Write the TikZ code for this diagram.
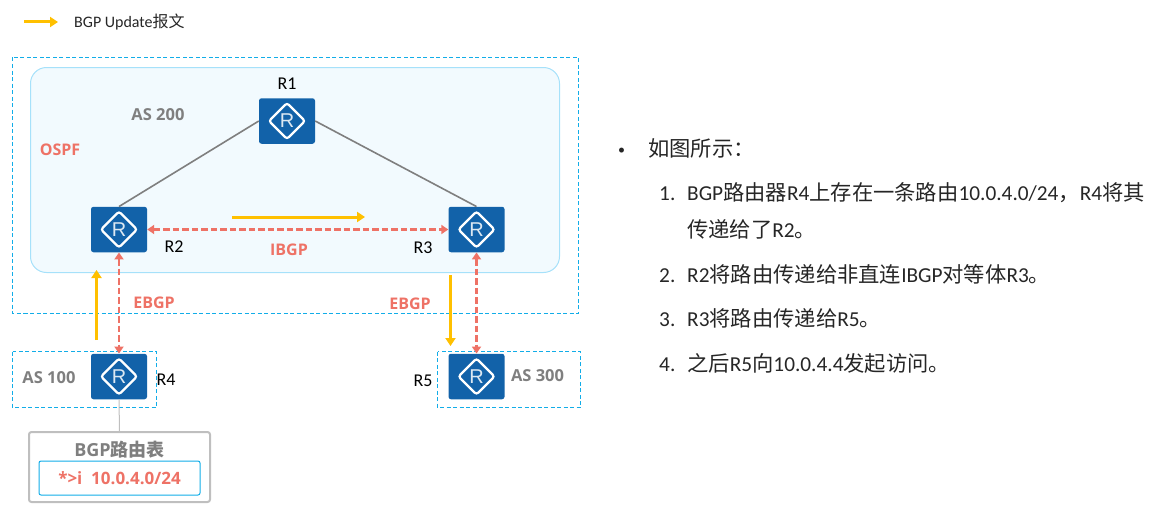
\documentclass[tikz,border=0pt]{standalone}
\usepackage{fontspec}
\usetikzlibrary{arrows.meta}
\setmainfont{Carlito}
\newfontfamily\cjk{Noto Sans CJK SC}
\newfontfamily\lab{Open Sans}
\newfontfamily\icon{Liberation Sans}
\newcommand{\zh}[1]{{\cjk #1}}
\definecolor{routerblue}{HTML}{1262A9}
\definecolor{redline}{HTML}{EE7266}
\definecolor{updateline}{HTML}{FFC000}
\definecolor{boxline}{HTML}{12ADE8}
\definecolor{areafill}{HTML}{F2FAFE}
\definecolor{arealine}{HTML}{A6E1FA}
\definecolor{graytext}{HTML}{7F7F7F}
\definecolor{tableline}{HTML}{BFBFBF}
\tikzset{
  router/.style={rectangle,rounded corners=2.5pt,fill=routerblue,minimum width=56pt,minimum height=45.5pt,inner sep=0pt,
    text=white!85!routerblue,font=\icon\fontsize{20}{20}\selectfont,
    path picture={\draw[white,line width=2.2pt] (path picture bounding box.center) ++(-18pt,0pt) -- ++(18pt,18pt) -- ++(18pt,-18pt) -- ++(-18pt,-18pt) -- cycle;}},
  asbox/.style={draw=boxline,dashed,dash pattern=on 4pt off 2.5pt,line width=0.9pt},
  rname/.style={font=\fontsize{18}{18}\selectfont,inner sep=0pt,text=black},
  graylabel/.style={font=\lab\bfseries\fontsize{16.5}{16.5}\selectfont,text=graytext,inner sep=0pt},
  redlabel/.style={font=\lab\bfseries\fontsize{16}{16}\selectfont,text=redline,inner sep=0pt},
  update/.style={draw=updateline,line width=3pt,-{Triangle[length=8pt,width=10pt]}},
  peer/.style={draw=redline,line width=2.8pt,dash pattern=on 6.5pt off 3pt,{Triangle[length=7pt,width=9pt]}-{Triangle[length=7pt,width=9pt]}},
  link/.style={draw=graytext,line width=1.6pt},
  para/.style={anchor=base west,inner sep=0pt,font=\fontsize{21.3}{21.3}\selectfont,text=black!85},
}
\begin{document}
\begin{tikzpicture}[x=1pt,y=-1pt]
\useasboundingbox (0,0) rectangle (1153,511);
% areas
\draw[asbox] (12.5,57.5) rectangle (578.5,313);
\draw[draw=arealine,fill=areafill,line width=1pt,rounded corners=16pt] (30.5,67.5) rectangle (559.5,272.5);
\draw[asbox] (12.5,351.5) rectangle (156.5,407.5);
\draw[asbox] (437.5,351.5) rectangle (580.5,407.5);
% routers
\node[router] (R1) at (287,121) {R};
\node[router] (R2) at (119,229.5) {R};
\node[router] (R3) at (476.5,229.5) {R};
\node[router] (R4) at (119,376.5) {R};
\node[router] (R5) at (476.5,376.5) {R};
% table
\node[draw=tableline,line width=2pt,rounded corners=2.5pt,minimum width=181pt,minimum height=70pt,inner sep=0pt] (table) at (119.5,467) {};
\node[draw=boxline,line width=1pt,rounded corners=2pt,fill=white,minimum width=161pt,minimum height=34pt,inner sep=0pt,text=redline,font=\lab\bfseries\fontsize{17}{17}\selectfont] (route) at (119.5,478) {*>i\ \ 10.0.4.0/24};
\node[graylabel,font=\lab\bfseries\fontsize{18}{18}\selectfont] (tabletitle) at (119.5,450) {BGP\zh{\bfseries 路由表}};
% links
\draw[link] (R1.west) -- (R2.north);
\draw[link] (R1.east) -- (R3.north);
\draw[draw=tableline,line width=1pt] (R4.south) -- (table.north);
\draw[peer] (R2.east) -- (R3.west);
\draw[peer] (R2.south) -- (R4.north);
\draw[peer] (R3.south) -- (R5.north);
% update arrows
\coordinate (legA) at (24,22); \coordinate (legB) at (58,22);
\coordinate (ibA) at (232,217); \coordinate (ibB) at (365,217);
\coordinate (upA) at (96.5,340); \coordinate (upB) at (96.5,270);
\coordinate (dnA) at (450.5,275); \coordinate (dnB) at (450.5,346);
\draw[update] (legA) -- (legB);
\draw[update] (ibA) -- (ibB);
\draw[update] (upA) -- (upB);
\draw[update] (dnA) -- (dnB);
% labels
\node[anchor=west,inner sep=0pt,font=\fontsize{16}{16}\selectfont,text=black!85] (legend) at (74,22) {BGP Update\zh{报文}};
\node[rname] (nR1) at (287,84) {R1};
\node[rname] (nR2) at (174,247) {R2};
\node[rname] (nR3) at (423,248) {R3};
\node[rname] (nR4) at (166,380) {R4};
\node[rname] (nR5) at (423,381) {R5};
\node[graylabel] (as200) at (158,115) {AS 200};
\node[graylabel] (as100) at (49,378) {AS 100};
\node[graylabel] (as300) at (537.5,376) {AS 300};
\node[redlabel] (ospf) at (60,150) {OSPF};
\node[redlabel] (ibgp) at (289,250) {IBGP};
\node[redlabel] (ebgpL) at (154,303) {EBGP};
\node[redlabel] (ebgpR) at (410,304) {EBGP};
% text
\node[para,font=\fontsize{14}{14}\selectfont] (bullet) at (618,154) {•};
\node[para] (p0) at (648,156) {\zh{如图所示：}};
\node[para] (n1) at (659,200) {1.};
\node[para] (p1) at (687,200) {BGP\zh{路由器}R4\zh{上存在一条路由}10.0.4.0/24\zh{，}R4\zh{将其}};
\node[para] (p1b) at (687,237) {\zh{传递给了}R2\zh{。}};
\node[para] (n2) at (659,282) {2.};
\node[para] (p2) at (687,282) {R2\zh{将路由传递给非直连}IBGP\zh{对等体}R3\zh{。}};
\node[para] (n3) at (659,326) {3.};
\node[para] (p3) at (687,326) {R3\zh{将路由传递给}R5\zh{。}};
\node[para] (n4) at (659,371) {4.};
\node[para] (p4) at (687,371) {\zh{之后}R5\zh{向}10.0.4.4\zh{发起访问。}};
\end{tikzpicture}
\end{document}
